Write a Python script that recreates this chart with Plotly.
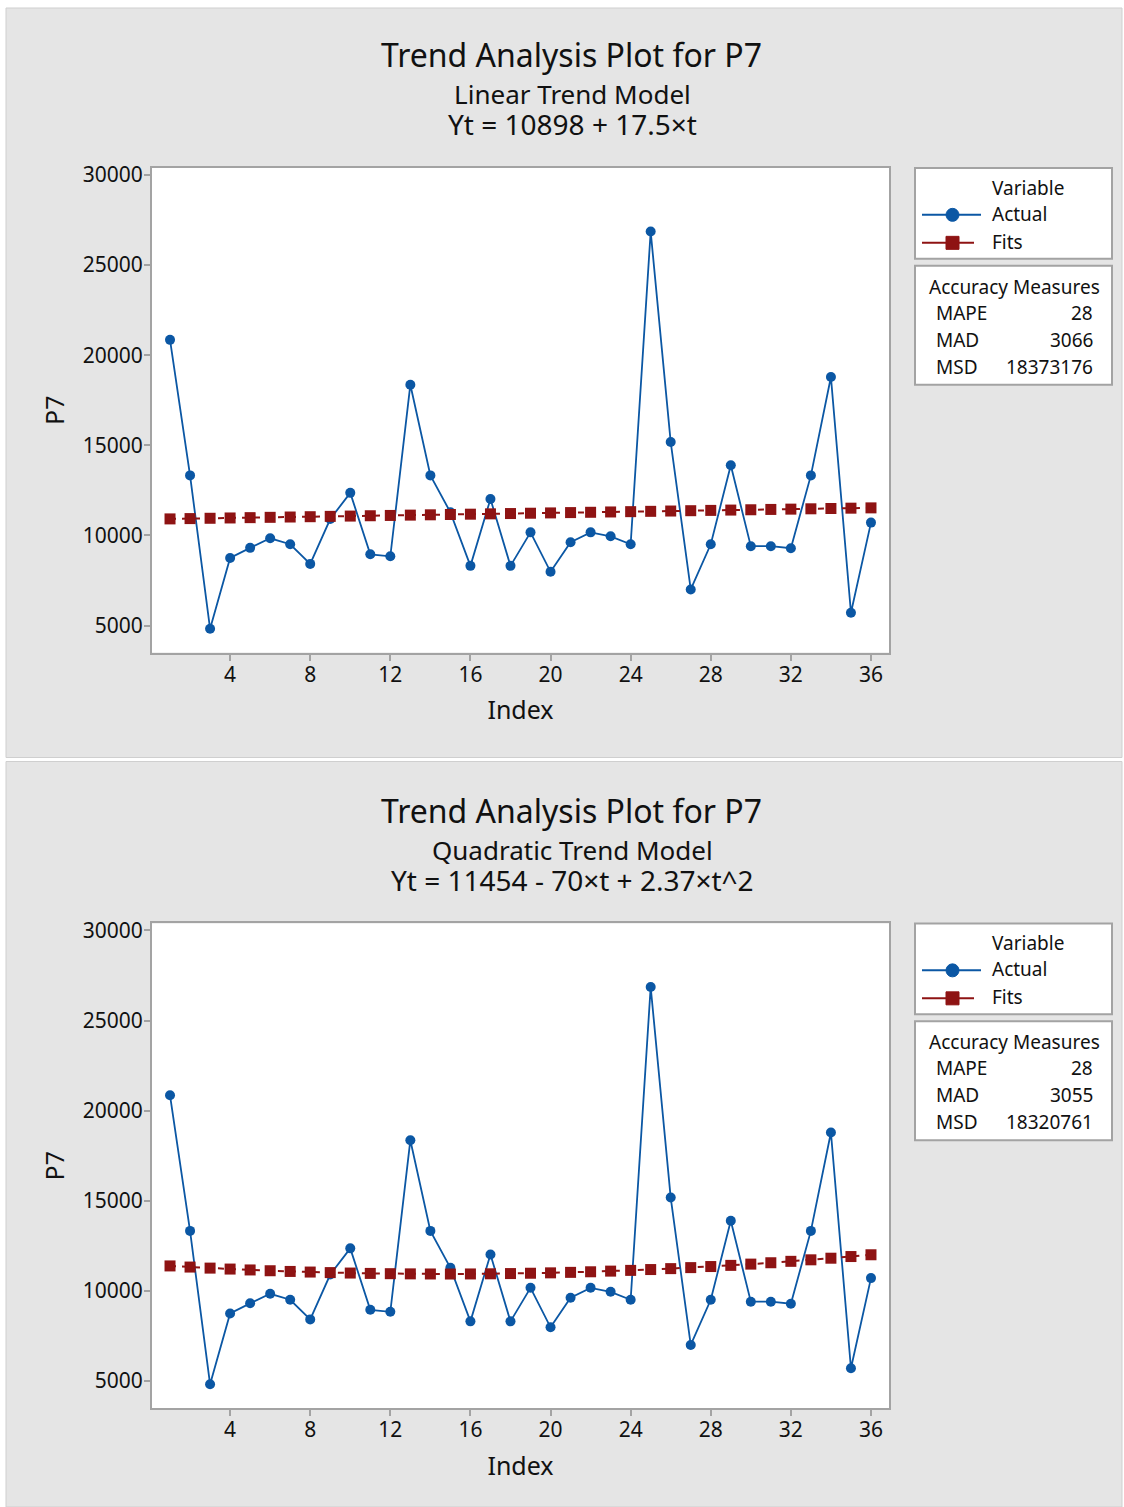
import plotly.graph_objects as go

W, H = 1124, 1507
TOP = 7       # page offset observed in the rendering
SPAN = 1500   # visible vertical span of the figure in the rendering

# ---------------- data ----------------
index = list(range(1, 37))
actual = [20850, 13330, 4820, 8750, 9310, 9840, 9510, 8420, 10910, 12360,
          8950, 8840, 18360, 13330, 11280, 8310, 12020, 8310, 10170, 7980,
          9620, 10170, 9950, 9510, 26860, 15180, 7000, 9510, 13890, 9400,
          9400, 9290, 13330, 18790, 5710, 10710]
fits_linear = [10916, 10933, 10951, 10968, 10986, 11003, 11021, 11038, 11056, 11073,
               11091, 11108, 11126, 11143, 11161, 11178, 11196, 11213, 11231, 11248,
               11266, 11283, 11301, 11318, 11336, 11353, 11371, 11388, 11406, 11423,
               11441, 11458, 11476, 11493, 11511, 11528]
fits_quad = [11386, 11323, 11265, 11212, 11163, 11119, 11080, 11046, 11016, 10991,
             10971, 10955, 10945, 10939, 10937, 10941, 10949, 10962, 10980, 11002,
             11029, 11061, 11098, 11139, 11185, 11236, 11292, 11352, 11417, 11487,
             11562, 11641, 11725, 11814, 11907, 12005]
x_ticks = [4, 8, 12, 16, 20, 24, 28, 32, 36]
y_ticks = [5000, 10000, 15000, 20000, 25000, 30000]

panels = [
    dict(model="Linear Trend Model", eq="Yt = 10898 + 17.5×t", fits=fits_linear,
         mape="28", mad="3066", msd="18373176"),
    dict(model="Quadratic Trend Model", eq="Yt = 11454 - 70×t + 2.37×t^2", fits=fits_quad,
         mape="28", mad="3055", msd="18320761"),
]

BLUE = "#0b57a4"
RED = "#8e1313"
GRAY_BG = "#e5e5e5"
FRAME = "#a3a3a3"
TXT = "#111111"
FONT = "Noto Sans"


def px(x):
    return x / W


def py(y):
    v = 1 - (y - TOP) / SPAN
    return min(max(v, 0.0), 1.0)


fig = go.Figure()
shapes = []
annotations = []

offsets = [0, 756]
panel_rects = [(6, 4, 1122, 757), (6, 761, 1122, 1507)]

for i, (p, off) in enumerate(zip(panels, offsets)):
    n = i + 1
    xa = "x" if n == 1 else f"x{n}"
    ya = "y" if n == 1 else f"y{n}"
    x0, y0, x1, y1 = panel_rects[i]
    shapes.append(dict(type="rect", xref="paper", yref="paper", layer="below",
                       x0=px(x0), x1=px(x1), y0=py(y1), y1=py(y0),
                       fillcolor=GRAY_BG, line=dict(color="#cfcfcf", width=1)))
    shapes.append(dict(type="rect", xref="paper", yref="paper", layer="below",
                       x0=px(152), x1=px(889), y0=py(652 + off), y1=py(167 + off),
                       fillcolor="white", line=dict(width=0)))

    fig.add_trace(go.Scatter(x=index, y=actual, mode="lines+markers", xaxis=xa, yaxis=ya,
                             line=dict(color=BLUE, width=1.8),
                             marker=dict(symbol="circle", size=10, color=BLUE),
                             showlegend=False, cliponaxis=False))
    fig.add_trace(go.Scatter(x=index, y=p["fits"], mode="lines+markers", xaxis=xa, yaxis=ya,
                             line=dict(color=RED, width=2, dash="6px,6px"),
                             marker=dict(symbol="square", size=11, color=RED),
                             showlegend=False, cliponaxis=False))

    axis_common = dict(showline=True, mirror=True, linecolor=FRAME, linewidth=2,
                       ticks="outside", ticklen=6, tickwidth=2, tickcolor=FRAME,
                       showgrid=False, zeroline=False,
                       tickfont=dict(family=FONT, size=21, color=TXT))
    xkey = "xaxis" if n == 1 else f"xaxis{n}"
    ykey = "yaxis" if n == 1 else f"yaxis{n}"
    fig.update_layout(**{
        xkey: dict(axis_common, domain=[px(152), px(889)], anchor=ya,
                   range=[0.1, 36.9], tickvals=x_ticks, ticklabelstandoff=-4,
                   title=dict(text="Index", font=dict(family=FONT, size=25, color=TXT),
                              standoff=15)),
        ykey: dict(axis_common, domain=[py(652 + off), py(167 + off)], anchor=xa,
                   range=[3500, 30390], tickvals=y_ticks, tickformat="d",
                   ticklabelstandoff=-3,
                   title=dict(text="P7", font=dict(family=FONT, size=25, color=TXT),
                              standoff=11)),
    })

    annotations.append(dict(text="Trend Analysis Plot for P7", x=px(571), y=py(54 + off),
                            xref="paper", yref="paper", showarrow=False,
                            xanchor="center", yanchor="middle",
                            font=dict(family=FONT, size=32, color=TXT)))
    sub = (f"<span style='font-size:26px'>{p['model']}</span><br>"
           f"<span style='font-size:28px'>{p['eq']}</span>")
    annotations.append(dict(text=sub, x=px(572), y=py(109 + off),
                            xref="paper", yref="paper", showarrow=False,
                            xanchor="center", yanchor="middle", align="center",
                            font=dict(family=FONT, size=23.5, color=TXT)))

    # legend box
    shapes.append(dict(type="rect", xref="paper", yref="paper",
                       x0=px(915), x1=px(1112), y0=py(258 + off), y1=py(167 + off),
                       fillcolor="white", line=dict(color=FRAME, width=2)))
    for txt, yy in [("Variable", 187), ("Actual", 213), ("Fits", 241)]:
        annotations.append(dict(text=txt, x=px(990), y=py(yy + off), xref="paper", yref="paper",
                                showarrow=False, xanchor="left", yanchor="middle",
                                font=dict(family=FONT, size=19, color=TXT)))
    shapes.append(dict(type="line", xref="paper", yref="paper",
                       x0=px(922), x1=px(981), y0=py(214 + off), y1=py(214 + off),
                       line=dict(color=BLUE, width=2)))
    shapes.append(dict(type="circle", xref="paper", yref="paper",
                       x0=px(946), x1=px(959), y0=py(220.5 + off), y1=py(207.5 + off),
                       fillcolor=BLUE, line=dict(color=BLUE, width=1)))
    shapes.append(dict(type="line", xref="paper", yref="paper",
                       x0=px(922), x1=px(974), y0=py(242 + off), y1=py(242 + off),
                       line=dict(color=RED, width=2)))
    shapes.append(dict(type="rect", xref="paper", yref="paper",
                       x0=px(946), x1=px(959), y0=py(248.5 + off), y1=py(235.5 + off),
                       fillcolor=RED, line=dict(color=RED, width=1)))

    # accuracy box
    shapes.append(dict(type="rect", xref="paper", yref="paper",
                       x0=px(915), x1=px(1112), y0=py(384 + off), y1=py(265 + off),
                       fillcolor="white", line=dict(color=FRAME, width=2)))
    annotations.append(dict(text="Accuracy Measures", x=px(1014), y=py(286 + off),
                            xref="paper", yref="paper", showarrow=False,
                            xanchor="center", yanchor="middle",
                            font=dict(family=FONT, size=19, color=TXT)))
    for k, (lab, val) in enumerate([("MAPE", p["mape"]), ("MAD", p["mad"]), ("MSD", p["msd"])]):
        yy = 312 + 27 * k + off
        annotations.append(dict(text=lab, x=px(934), y=py(yy), xref="paper", yref="paper",
                                showarrow=False, xanchor="left", yanchor="middle",
                                font=dict(family=FONT, size=19, color=TXT)))
        annotations.append(dict(text=val, x=px(1095), y=py(yy), xref="paper", yref="paper",
                                showarrow=False, xanchor="right", yanchor="middle",
                                font=dict(family=FONT, size=19, color=TXT)))

fig.update_layout(width=W, height=H, margin=dict(l=0, r=0, t=0, b=0),
                  paper_bgcolor="white", plot_bgcolor="rgba(0,0,0,0)",
                  shapes=shapes, annotations=annotations, showlegend=False,
                  font=dict(family=FONT))

fig.write_html("out.html", config={"displayModeBar": False},
               post_script="document.documentElement.style.overflow='hidden';"
                           "document.body.style.margin='0';document.body.style.overflow='hidden';")
